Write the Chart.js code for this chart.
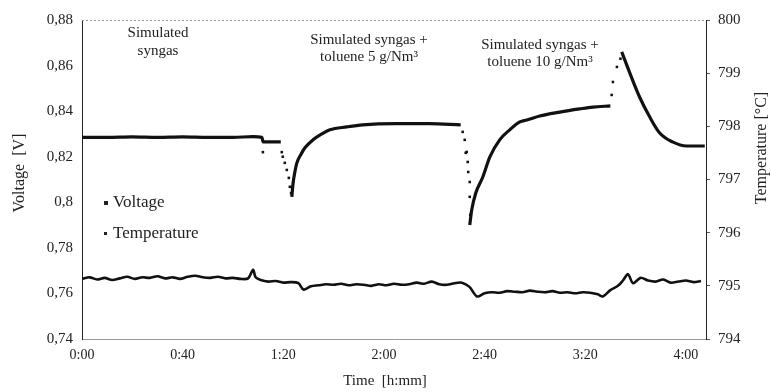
<!DOCTYPE html>
<html><head><meta charset="utf-8">
<script src="https://cdn.jsdelivr.net/npm/chart.js@4"></script>
<style>html,body{margin:0;padding:0;background:#fff}</style>
</head><body>
<canvas id="c" width="771" height="392"></canvas>
<script>
// ---- data (time in minutes) ----
const xTickMinutes = [0, 40, 80, 120, 160, 200, 240];
const xTickLabels = ['0:00', '0:40', '1:20', '2:00', '2:40', '3:20', '4:00'];
const voltTicks = [0.74, 0.76, 0.78, 0.80, 0.82, 0.84, 0.86, 0.88];
const voltTickLabels = ['0,74', '0,76', '0,78', '0,8', '0,82', '0,84', '0,86', '0,88'];
const tempTicks = [794, 795, 796, 797, 798, 799, 800];
const tempTickLabels = ['794', '795', '796', '797', '798', '799', '800'];

// voltage: continuous parts (null = break)
const voltTime = [0, 10, 20, 30, 40, 50, 60, 68, 71.5, 72, 79, 80,
  83.4, 83.8, 84.6, 85.4, 87, 88.6, 91.8, 95.3, 98.5, 105.3, 111.6, 125, 138, 150.5, 152,
  154.1, 154.9, 156.5, 159.3, 162.1, 166, 170, 174, 176.8, 181.9, 189.9, 197.8, 203, 210, 212,
  214.5, 217.7, 221.6, 225.6, 229.6, 234.7, 240.3, 247.5];
const voltValues = [0.8285, 0.8285, 0.8287, 0.8285, 0.8287, 0.8285, 0.8285, 0.8288, 0.8285, 0.8265, 0.8265, null,
  0.8024, 0.8076, 0.8133, 0.8173, 0.821, 0.8239, 0.8274, 0.830, 0.8318, 0.8331, 0.834, 0.8345, 0.8345, 0.834, null,
  0.790, 0.7967, 0.8041, 0.8111, 0.8199, 0.8274, 0.8318, 0.8353, 0.8361, 0.8379, 0.8396, 0.841, 0.8418, 0.8423, null,
  0.866, 0.8568, 0.8462, 0.8375, 0.8304, 0.8265, 0.8247, 0.8247];
// voltage: isolated points during fast transients
const voltDotTime = [71.9, 79.4, 79.8, 80.6, 81.4, 82.2, 82.6, 83.1,
  151.3, 152.1, 152.9, 152.5, 153.3, 153.5, 154.1, 154.1, 154.3,
  210.5, 211, 212.6, 214];
const voltDotValues = [0.822, 0.822, 0.820, 0.8173, 0.8142, 0.8107, 0.8068, 0.804,
  0.8309, 0.8274, 0.8221, 0.8217, 0.8177, 0.8133, 0.8089, 0.8024, 0.7945,
  0.8471, 0.8528, 0.8594, 0.863];

// temperature
const tempTime = [0,3,6,9,12,15,18,21,24,27,30,33,36,39,42,45,48,51,54,57,60,63,66,68,69,71,74,77,80,83,86,88,91,94,97,100,103,106,109,112,115,118,121,124,127,130,133,136,139,142,145,148,151,154,157,160,163,166,169,172,175,178,181,184,187,190,193,196,199,202,205,207,210,213,215,217,219,222,225,228,231,234,237,240,243,246];
const tempValues = [795.13,795.16,795.12,795.15,795.11,795.14,795.17,795.13,795.16,795.15,795.18,795.14,795.16,795.13,795.17,795.19,795.16,795.15,795.17,795.14,795.15,795.13,795.14,795.30,795.16,795.11,795.08,795.09,795.06,795.07,795.05,794.93,794.99,795.01,795.03,795.02,795.04,795.01,795.03,795.02,795.00,795.03,795.01,795.04,795.02,795.03,795.06,795.04,795.08,795.03,795.02,795.05,795.06,794.98,794.80,794.86,794.88,794.87,794.90,794.89,794.88,794.91,794.89,794.88,794.90,794.87,794.88,794.86,794.88,794.87,794.84,794.80,794.92,795.00,795.10,795.22,795.05,795.15,795.10,795.08,795.12,795.06,795.08,795.10,795.07,795.09];

const pts = (xs, ys) => xs.map((x, i) => ({x: x, y: ys[i]}));
const FONT = '"Liberation Serif", "DejaVu Serif", serif';
const INK = '#222';

const textPlugin = {
  id: 'texts',
  afterDraw(chart) {
    const c = chart.ctx, a = chart.chartArea;
    c.save();
    // dotted top border
    c.strokeStyle = '#999'; c.lineWidth = 1; c.setLineDash([2, 2]);
    c.beginPath(); c.moveTo(a.left, a.top + 0.5); c.lineTo(a.right, a.top + 0.5); c.stroke();
    c.setLineDash([]);
    c.fillStyle = INK;
    c.font = '15px ' + FONT;
    c.textAlign = 'center'; c.textBaseline = 'middle';
    c.fillText('Simulated', 158, 33);
    c.fillText('syngas', 158, 51);
    c.fillText('Simulated syngas +', 369, 40);
    c.fillText('toluene 5 g/Nm\u00B3', 369, 57);
    c.fillText('Simulated syngas +', 540, 45);
    c.fillText('toluene 10 g/Nm\u00B3', 540, 62);
    // legend
    c.font = '17px ' + FONT;
    c.textAlign = 'left';
    c.fillRect(104, 201, 4, 4);
    c.fillText('Voltage', 113, 203);
    c.fillRect(104, 232, 3, 3);
    c.fillText('Temperature', 113, 234);
    // axis titles
    c.textAlign = 'center';
    c.font = '15px ' + FONT;
    c.fillText('Time  [h:mm]', 385, 381);
    c.font = '16px ' + FONT;
    c.save(); c.translate(20, 173); c.rotate(-Math.PI / 2); c.fillText('Voltage  [V]', 0, 0); c.restore();
    c.save(); c.translate(762, 148); c.rotate(-Math.PI / 2); c.fillText('Temperature [\u00B0C]', 0, 0); c.restore();
    c.restore();
  }
};

new Chart(document.getElementById('c'), {
  type: 'scatter',
  data: {
    datasets: [
      { label: 'Voltage', data: pts(voltTime, voltValues), yAxisID: 'y', showLine: true, spanGaps: false,
        borderColor: '#111', borderWidth: 3.2, pointRadius: 0, cubicInterpolationMode: 'monotone' },
      { label: 'Voltage points', data: pts(voltDotTime, voltDotValues), yAxisID: 'y', showLine: false,
        pointStyle: 'rect', pointRadius: 1.8, backgroundColor: '#111', borderColor: '#111', borderWidth: 0 },
      { label: 'Temperature', data: pts(tempTime, tempValues), yAxisID: 'y2', showLine: true,
        borderColor: '#111', borderWidth: 2.6, pointRadius: 0, tension: 0.3 }
    ]
  },
  options: {
    responsive: false, animation: false, devicePixelRatio: 1,
    layout: { padding: { top: 20, left: 0, right: 0, bottom: 0 } },
    plugins: { legend: { display: false }, tooltip: { enabled: false } },
    scales: {
      x: {
        type: 'linear', min: 0, max: 248,
        afterBuildTicks: s => { s.ticks = xTickMinutes.map(v => ({value: v})); },
        afterFit: s => { s.height = 53; },
        ticks: { callback: (v, i) => xTickLabels[i], padding: 8, maxRotation: 0, autoSkip: false,
          color: INK, font: { family: FONT, size: 14 } },
        grid: { display: false, drawTicks: false },
        border: { display: true, color: '#999', dash: [2, 2] }
      },
      y: {
        position: 'left', min: 0.74, max: 0.88,
        afterBuildTicks: s => { s.ticks = voltTicks.map(v => ({value: v})); },
        afterFit: s => { s.width = 82; },
        ticks: { callback: (v, i) => voltTickLabels[i], padding: 9, color: INK, font: { family: FONT, size: 15 } },
        grid: { display: false, drawTicks: false },
        border: { display: true, color: '#222', width: 1 }
      },
      y2: {
        position: 'right', min: 794, max: 800,
        afterBuildTicks: s => { s.ticks = tempTicks.map(v => ({value: v})); },
        afterFit: s => { s.width = 65; },
        ticks: { callback: (v, i) => tempTickLabels[i], padding: 8, color: INK, font: { family: FONT, size: 15 } },
        grid: { display: true, drawOnChartArea: false, drawTicks: true, tickLength: 4, color: '#555' },
        border: { display: true, color: '#222', width: 1 }
      }
    }
  },
  plugins: [textPlugin]
});
</script>
</body></html>
